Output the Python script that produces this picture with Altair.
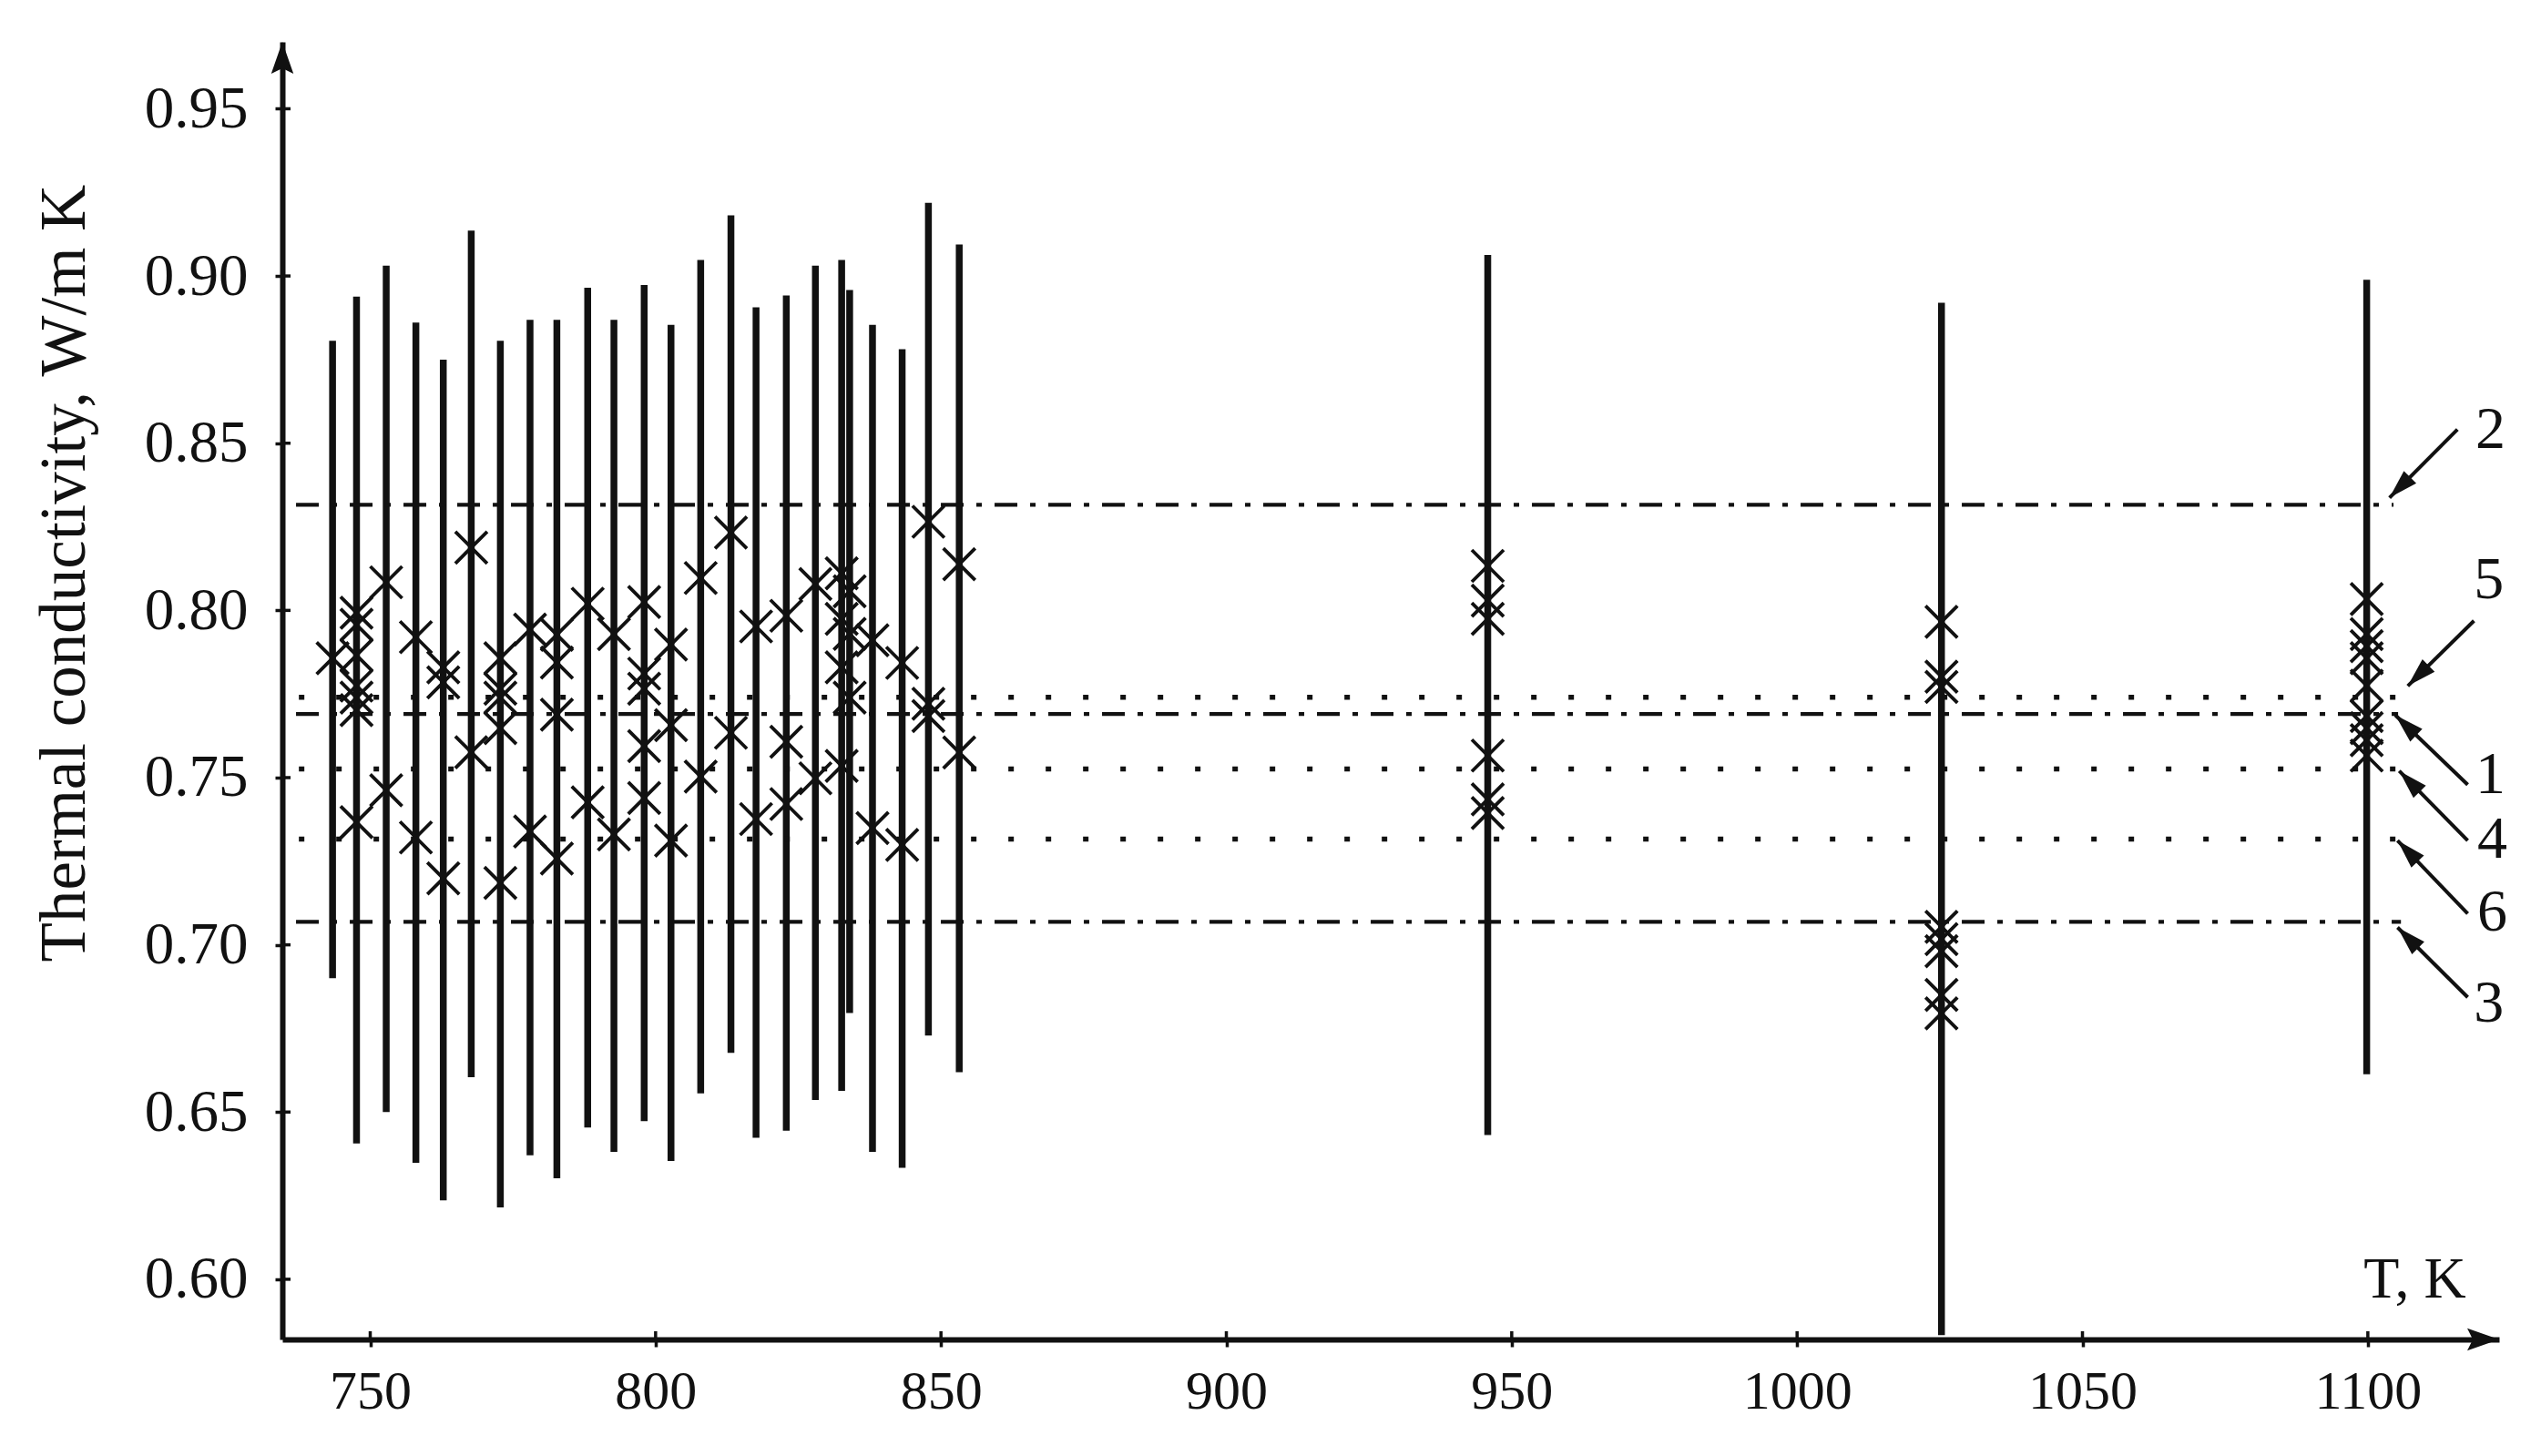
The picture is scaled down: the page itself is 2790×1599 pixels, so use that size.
import math
import altair as alt
import pandas as pd

# ---------------- data ----------------
# vertical uncertainty bars: temperature (K), lower and upper ends (W/m K)
bar_T = [743.4, 747.6, 752.8, 758.0, 762.8, 767.7, 772.8, 778.0, 782.7, 788.1,
         792.7, 798.0, 802.7, 807.9, 813.2, 817.6, 822.9, 828.0, 832.6, 834.0,
         838.0, 843.2, 847.8, 853.2, 945.8, 1025.3, 1099.8]
bar_hi = [0.8806, 0.8938, 0.9031, 0.8861, 0.8750, 0.9136, 0.8806, 0.8869, 0.8869, 0.8965,
          0.8869, 0.8973, 0.8854, 0.9048, 0.9181, 0.8906, 0.8942, 0.9031, 0.9048, 0.8958,
          0.8854, 0.8781, 0.9219, 0.9094, 0.9063, 0.8920, 0.8989]
bar_lo = [0.6900, 0.6406, 0.6500, 0.6348, 0.6236, 0.6604, 0.6215, 0.6371, 0.6302, 0.6454,
          0.6381, 0.6473, 0.6354, 0.6556, 0.6677, 0.6423, 0.6444, 0.6536, 0.6563, 0.6796,
          0.6381, 0.6333, 0.6729, 0.6619, 0.6431, 0.5833, 0.6613]
# measured values (x markers) on each bar, same order as bar_T
bar_markers = [
    [0.7857],
    [0.7993, 0.7957, 0.7866, 0.7775, 0.7739, 0.7702, 0.7367],
    [0.8084, 0.7462],
    [0.7920, 0.7321],
    [0.7830, 0.7785, 0.7199],
    [0.8188, 0.7576],
    [0.7857, 0.7766, 0.7739, 0.7648, 0.7185],
    [0.7943, 0.7339],
    [0.7927, 0.7844, 0.7688, 0.7258],
    [0.8020, 0.7426],
    [0.7929, 0.7330],
    [0.8025, 0.7811, 0.7766, 0.7594, 0.7439],
    [0.7898, 0.7657, 0.7312],
    [0.8097, 0.7503],
    [0.8233, 0.7634],
    [0.7952, 0.7376],
    [0.7984, 0.7607, 0.7421],
    [0.8079, 0.7498],
    [0.8111, 0.7975, 0.7830, 0.7535],
    [0.8057, 0.7930, 0.7739],
    [0.7911, 0.7349],
    [0.7843, 0.7299],
    [0.8265, 0.7721, 0.7684],
    [0.8138, 0.7575],
    [0.8133, 0.8029, 0.7975, 0.7566, 0.7435, 0.7394],
    [0.7966, 0.7802, 0.7771, 0.7054, 0.7017, 0.6981, 0.6850, 0.6795],
    [0.8034, 0.7929, 0.7893, 0.7857, 0.7775, 0.7684, 0.7648, 0.7612, 0.7566],
]

# horizontal reference levels
line_label = ["2", "5", "1", "4", "6", "3"]
line_value = [0.8316, 0.7740, 0.7690, 0.7526, 0.7316, 0.7069]
line_style = ["dashdot", "dotted", "dashdot", "dotted", "dotted", "dashdot"]
line_start = [737.0, 737.5, 737.0, 737.5, 737.5, 737.0]
line_end = [1104.5, 1105.3, 1105.3, 1105.3, 1105.3, 1105.8]

# annotation numbers and their arrows
ann_T = [1121.5, 1121.2, 1121.5, 1121.8, 1121.8, 1121.2]
ann_v = [0.8540, 0.8092, 0.7508, 0.7315, 0.7096, 0.6826]
arrow_tail_T = [1115.7, 1118.6, 1117.5, 1117.5, 1117.5, 1117.5]
arrow_tail_v = [0.8541, 0.7969, 0.7479, 0.7312, 0.7093, 0.6843]
arrow_tip_T = [1103.8, 1107.0, 1104.8, 1105.5, 1105.2, 1105.2]
arrow_tip_v = [0.8337, 0.7774, 0.7687, 0.7520, 0.7312, 0.7052]

x_ticks = [750, 800, 850, 900, 950, 1000, 1050, 1100]
y_ticks = [0.60, 0.65, 0.70, 0.75, 0.80, 0.85, 0.90, 0.95]

x_domain = [734.6, 1123.0]
y_domain = [0.582, 0.970]

# ---------------- layout / style ----------------
W, H = 2434, 1425
INK = "#111111"
FONT = "Liberation Serif"
XPATH = "M-1,-1L1,1M-1,1L1,-1"
HEAD = "M0,0L0.6,2L-0.6,2Z"
AXHEAD = "M0,0L0.7,2L0,1.65L-0.7,2Z"

bars = pd.DataFrame({"T": bar_T, "lo": bar_lo, "hi": bar_hi})
mk_rows = [{"T": t, "v": v} for t, vs in zip(bar_T, bar_markers) for v in vs]
markers = pd.DataFrame(mk_rows)
lines = pd.DataFrame({"label": line_label, "v": line_value, "style": line_style,
                      "T": line_start, "T2": line_end})

sx = W / (x_domain[1] - x_domain[0])
sy = H / (y_domain[1] - y_domain[0])
angles = []
for a, b, c, d in zip(arrow_tail_T, arrow_tail_v, arrow_tip_T, arrow_tip_v):
    dx = (c - a) * sx
    dy = -(d - b) * sy
    angles.append(math.degrees(math.atan2(dx, -dy)) % 360)
ann = pd.DataFrame({"label": line_label, "T": ann_T, "v": ann_v,
                    "tT": arrow_tail_T, "tv": arrow_tail_v,
                    "pT": arrow_tip_T, "pv": arrow_tip_v, "ang": angles})

xs = alt.Scale(domain=x_domain, nice=False, zero=False)
ys = alt.Scale(domain=y_domain, nice=False, zero=False)

x_axis = alt.Axis(values=x_ticks, format="d", grid=False,
                  domainColor=INK, domainWidth=6, tickColor=INK, tickWidth=3.5, tickSize=8,
                  labelFont=FONT, labelFontSize=60, labelColor=INK, labelPadding=20,
                  labelFlush=False, labelOverlap=False,
                  title="T, K", titleFont=FONT, titleFontSize=64, titleFontWeight="normal",
                  titleColor=INK, titleX=2341, titleY=-66, titleAlign="center",
                  titleBaseline="middle", titleAngle=0)
y_axis = alt.Axis(values=y_ticks, format=".2f", grid=False,
                  domainColor=INK, domainWidth=6, tickColor=INK, tickWidth=3.5, tickSize=8,
                  labelFont=FONT, labelFontSize=65, labelColor=INK, labelPadding=30,
                  labelFlush=False, labelOverlap=False,
                  title="Thermal conductivity, W/m K", titleFont=FONT, titleFontSize=71,
                  titleFontWeight="normal", titleColor=INK, titleX=-239, titleY=583,
                  titleAngle=270, titleAlign="center", titleBaseline="middle")

X = alt.X("T:Q", scale=xs, axis=x_axis)
Y = alt.Y("v:Q", scale=ys, axis=y_axis)

bar_layer = alt.Chart(bars).mark_rule(strokeWidth=7.5, color=INK).encode(
    x=X, y=alt.Y("lo:Q", scale=ys, axis=y_axis), y2="hi:Q")

marker_layer = alt.Chart(markers).mark_point(
    shape=XPATH, size=1225, filled=False, strokeWidth=3.8, color=INK, opacity=1
).encode(x=X, y=Y)

dashdot = alt.Chart(lines).transform_filter(alt.datum.style == "dashdot").mark_rule(
    strokeWidth=4.2, color=INK, strokeDash=[25, 14, 6, 14]
).encode(x=X, x2="T2:Q", y=Y)

dotted = alt.Chart(lines).transform_filter(alt.datum.style == "dotted").mark_rule(
    strokeWidth=5.5, color=INK, strokeDash=[6, 35]
).encode(x=X, x2="T2:Q", y=Y)

label_layer = alt.Chart(ann).mark_text(
    font=FONT, fontSize=66, color=INK, align="center", baseline="middle"
).encode(x=X, y=Y, text="label:N")

shaft_layer = alt.Chart(ann).mark_rule(strokeWidth=4, color=INK).encode(
    x=alt.X("tT:Q", scale=xs, axis=x_axis), x2="pT:Q",
    y=alt.Y("tv:Q", scale=ys, axis=y_axis), y2="pv:Q")

head_layer = alt.Chart(ann).mark_point(
    shape=HEAD, size=1024, filled=True, color=INK, opacity=1, strokeWidth=0
).encode(x=alt.X("pT:Q", scale=xs, axis=x_axis), y=alt.Y("pv:Q", scale=ys, axis=y_axis),
         angle=alt.Angle("ang:Q", scale=None))

xt = pd.DataFrame({"T": x_ticks})
yt = pd.DataFrame({"v": y_ticks})
xtick_in = alt.Chart(xt).mark_rule(strokeWidth=3.5, color=INK).encode(
    x=X, y=alt.value(H), y2=alt.value(H - 9))
ytick_in = alt.Chart(yt).mark_rule(strokeWidth=3.5, color=INK).encode(
    y=Y, x=alt.value(0), x2=alt.value(9))

one = pd.DataFrame({"k": [0]})
x_arrow = alt.Chart(one).mark_point(
    shape=AXHEAD, size=1225, filled=True, color=INK, opacity=1, strokeWidth=0
).encode(x=alt.value(W), y=alt.value(H), angle=alt.value(90))
y_arrow = alt.Chart(one).mark_point(
    shape=AXHEAD, size=1225, filled=True, color=INK, opacity=1, strokeWidth=0
).encode(x=alt.value(0), y=alt.value(0), angle=alt.value(0))

chart = alt.layer(
    bar_layer, dashdot, dotted, marker_layer, shaft_layer, head_layer, label_layer,
    xtick_in, ytick_in, x_arrow, y_arrow
).properties(
    width=W, height=H,
    padding={"left": 302, "top": 38, "right": 30, "bottom": 110},
    autosize=alt.AutoSizeParams(type="none"),
    background="white",
).configure_view(stroke=None)

chart.save("out.html", embed_options={"renderer": "svg", "actions": False})
